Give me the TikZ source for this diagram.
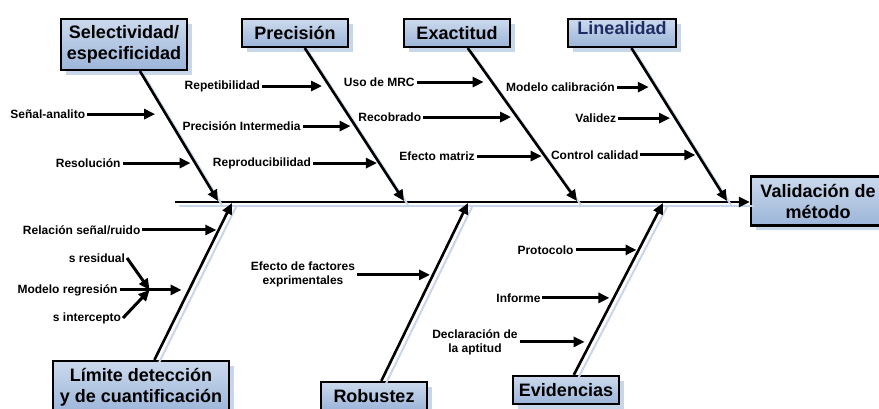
\documentclass[tikz,border=0pt]{standalone}
\usepackage{fontspec}
\setmainfont{Liberation Sans}
\usepackage{tikz}
\usetikzlibrary{arrows.meta,positioning,calc,shadows}

\definecolor{boxtop}{HTML}{CBD9EC}
\definecolor{boxbot}{HTML}{9CB5D9}
\definecolor{bonehue}{HTML}{C8D6EA}
\definecolor{lintext}{HTML}{1E2C64}

\begin{document}
\begin{tikzpicture}[x=1pt,y=-1pt,>={Triangle[length=11pt,width=10pt]},
                    line width=2pt]
  \tikzstyle{cat}=[draw=black,line width=2.2pt,top color=boxtop,bottom color=boxbot,
                   align=center,inner sep=2pt,font=\bfseries\fontsize{18}{21}\selectfont,
                   drop shadow={shadow xshift=5pt,shadow yshift=-5pt,fill=bonehue,opacity=1}]
  \tikzstyle{cause}=[font=\bfseries\fontsize{12}{14}\selectfont,inner sep=1pt,align=center]
  \tikzstyle{bone}=[->,line width=2.6pt,
                    preaction={draw=bonehue,-,transform canvas={shift={(4pt,-4pt)}}}]
  \tikzstyle{sub}=[->,line width=3pt]

  \useasboundingbox (0,0) rectangle (879,409);

  % categories
  \node[cat,minimum width=126pt,minimum height=51pt] (sel)  at (124,44.5) {Selectividad/\\especificidad};
  \node[cat,minimum width=106pt,minimum height=28pt] (prec) at (295,33)   {Precisión};
  \node[cat,minimum width=106pt,minimum height=28pt] (exac) at (457,33)   {Exactitud};
  \node[cat,minimum width=108pt,minimum height=28pt,text=lintext,text depth=10pt]
                                                     (lin)  at (622,33)   {Linealidad};
  \node[cat,minimum width=134pt,minimum height=49pt] (val)  at (818,201)  {Validación de\\método};
  \node[cat,minimum width=176pt,minimum height=52pt] (lim)  at (141,387)  {Límite detección\\y de cuantificación};
  \node[cat,minimum width=106pt,minimum height=28pt] (rob)  at (374,396)  {Robustez};
  \node[cat,minimum width=106pt,minimum height=28pt] (evid) at (566,390)  {Evidencias};

  % spine
  \coordinate (tail) at (175,202);
  \draw[bone] (tail) -- (tail -| val.west);

  \coordinate (jsel)  at (218,201);
  \coordinate (jprec) at (404,201);
  \coordinate (jexac) at (577,201);
  \coordinate (jlin)  at (727,201);
  \coordinate (jlim)  at (232,203);
  \coordinate (jrob)  at (468,203);
  \coordinate (jevid) at (663,203);

  \draw[bone] (sel)  -- (jsel);
  \draw[bone] (prec) -- (jprec);
  \draw[bone] (exac) -- (jexac);
  \draw[bone] (lin)  -- (jlin);
  \draw[bone] (lim)  -- (jlim);
  \draw[bone] (rob)  -- (jrob);
  \draw[bone] (evid) -- (jevid);

  % points on the bones
  \coordinate (s1) at ($(sel.south)!0.331!(jsel)$);
  \coordinate (s2) at ($(sel.south)!0.708!(jsel)$);
  \coordinate (p1) at ($(prec.south)!0.248!(jprec)$);
  \coordinate (p2) at ($(prec.south)!0.510!(jprec)$);
  \coordinate (p3) at ($(prec.south)!0.752!(jprec)$);
  \coordinate (e1) at ($(exac.south)!0.222!(jexac)$);
  \coordinate (e2) at ($(exac.south)!0.451!(jexac)$);
  \coordinate (e3) at ($(exac.south)!0.706!(jexac)$);
  \coordinate (l1) at ($(lin.south)!0.255!(jlin)$);
  \coordinate (l2) at ($(lin.south)!0.458!(jlin)$);
  \coordinate (l3) at ($(lin.south)!0.699!(jlin)$);
  \coordinate (d1) at ($(lim.north)!0.828!(jlim)$);
  \coordinate (d2) at ($(lim.north)!0.446!(jlim)$);
  \coordinate (r1) at ($(rob.north)!0.596!(jrob)$);
  \coordinate (v1) at ($(evid.north)!0.727!(jevid)$);
  \coordinate (v2) at ($(evid.north)!0.448!(jevid)$);
  \coordinate (v3) at ($(evid.north)!0.192!(jevid)$);

  % causes
  \node[cause,left=68pt of s1] (sena)  {Señal-analito};
  \node[cause,left=68pt of s2] (reso)  {Resolución};
  \node[cause,left=60pt of p1] (repe)  {Repetibilidad};
  \node[cause,left=48pt of p2] (pint)  {Precisión Intermedia};
  \node[cause,left=64pt of p3] (repr)  {Reproducibilidad};
  \node[cause,left=67pt of e1] (mrc)   {Uso de MRC};
  \node[cause,left=88pt of e2] (reco)  {Recobrado};
  \node[cause,left=65pt of e3] (emat)  {Efecto matriz};
  \node[cause,left=32pt of l1] (mcal)  {Modelo calibración};
  \node[cause,left=52pt of l2] (vali)  {Validez};
  \node[cause,left=55pt of l3] (ccal)  {Control calidad};
  \node[cause,left=74pt of d1] (rsr)   {Relación señal/ruido};
  \node[cause,left=62pt of d2] (mreg)  {Modelo regresión};
  \node[cause,left=73pt of r1] (efac)  {Efecto de factores\\exprimentales};
  \node[cause,left=61pt of v1] (prot)  {Protocolo};
  \node[cause,left=67pt of v2] (info)  {Informe};
  \node[cause,left=65pt of v3] (decl)  {Declaración de\\la aptitud};

  \coordinate (mr) at ($(mreg.east)+(30pt,0pt)$);
  \node[cause,anchor=east] (sres) at (127,258) {s residual};
  \node[cause,anchor=east] (sint) at (123,318) {s intercepto};

  \path (sena) edge[sub] (s1)
        (reso) edge[sub] (s2)
        (repe) edge[sub] (p1)
        (pint) edge[sub] (p2)
        (repr) edge[sub] (p3)
        (mrc)  edge[sub] (e1)
        (reco) edge[sub] (e2)
        (emat) edge[sub] (e3)
        (mcal) edge[sub] (l1)
        (vali) edge[sub] (l2)
        (ccal) edge[sub] (l3)
        (rsr)  edge[sub] (d1)
        (mreg) edge[sub] (d2)
        (sres.east) edge[sub] (mr)
        (sint.east) edge[sub] (mr)
        (efac) edge[sub] (r1)
        (prot) edge[sub] (v1)
        (info) edge[sub] (v2)
        (decl) edge[sub] (v3)
  ; %end path

\end{tikzpicture}
\end{document}
